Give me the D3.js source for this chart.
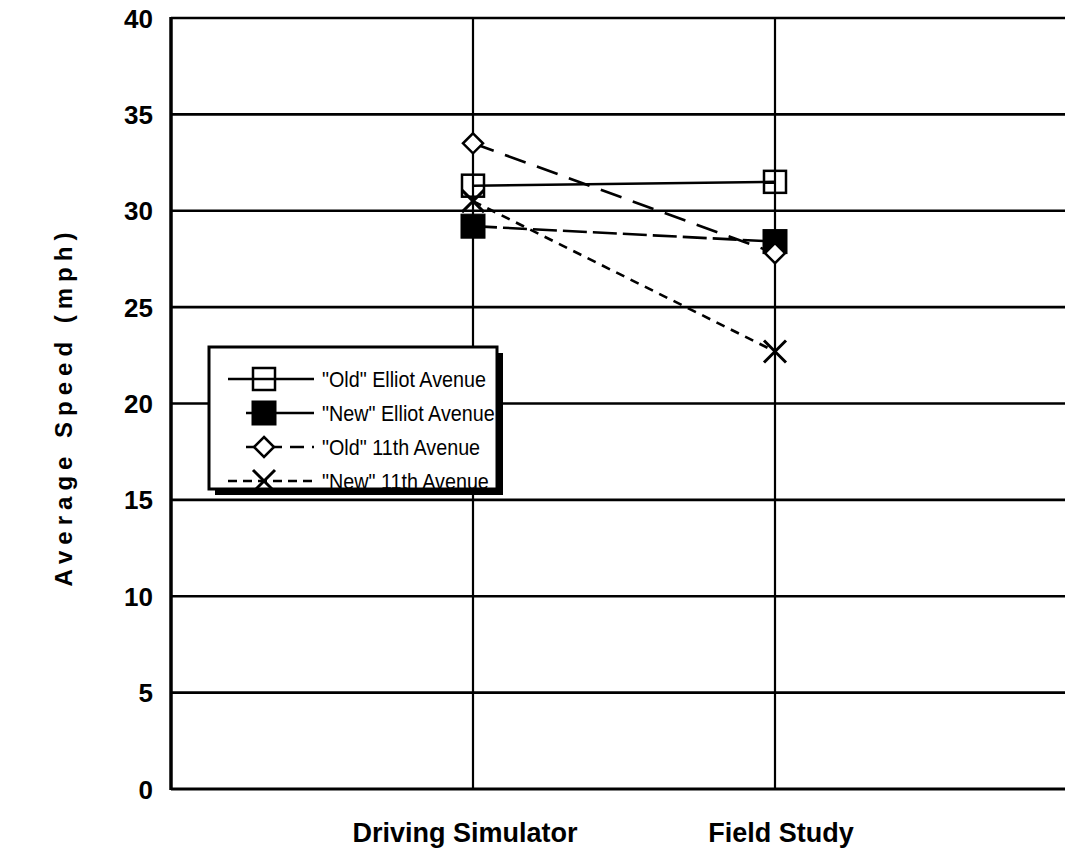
<!DOCTYPE html>
<html><head><meta charset="utf-8">
<script src="https://cdn.jsdelivr.net/npm/d3@7"></script>
<style>body{margin:0;background:#fff}svg{display:block}</style>
</head><body>
<svg id="c" width="1065" height="850"></svg>
<script>
const categories = ["Driving Simulator", "Field Study"];
const yTicks = [0, 5, 10, 15, 20, 25, 30, 35, 40];
const seriesNames = ["\"Old\" Elliot Avenue", "\"New\" Elliot Avenue", "\"Old\" 11th Avenue", "\"New\" 11th Avenue"];
const oldElliot = [31.3, 31.5];
const newElliot = [29.2, 28.4];
const old11th = [33.5, 27.8];
const new11th = [30.5, 22.7];

const series = [
  {name: seriesNames[0], values: oldElliot, dash: null, marker: "squareOpen", legDash: null, legX1: 228},
  {name: seriesNames[1], values: newElliot, dash: "24,6", marker: "squareFilled", legDash: null, legX1: 246},
  {name: seriesNames[2], values: old11th, dash: "22,12", marker: "diamond", legDash: "14,8", legX1: 246},
  {name: seriesNames[3], values: new11th, dash: "9,7", marker: "cross", legDash: "9,6", legX1: 228}
];

const svg = d3.select("#c");
const L = 171, T = 18, B = 789, R = 1077;
const x = d3.scaleLinear().domain([0, categories.length + 1]).range([L, R]);
const y = d3.scaleLinear().domain([0, 40]).range([B, T]);
const FONT = "Arial, 'Liberation Sans', sans-serif";

// horizontal gridlines
svg.append("g").selectAll("line").data(yTicks).join("line")
  .attr("x1", L).attr("x2", 1065).attr("y1", d => y(d)).attr("y2", d => y(d))
  .attr("stroke", "#000").attr("stroke-width", d => d === 0 ? 3 : 2.6);
// vertical category gridlines
svg.append("g").selectAll("line").data(categories).join("line")
  .attr("x1", (d, i) => x(i + 1)).attr("x2", (d, i) => x(i + 1))
  .attr("y1", T).attr("y2", B).attr("stroke", "#000").attr("stroke-width", 2.2);
// left axis line
svg.append("line").attr("x1", L).attr("x2", L).attr("y1", T - 1).attr("y2", B + 1)
  .attr("stroke", "#000").attr("stroke-width", 3.5);

// y tick labels via axis
const yAxis = d3.axisLeft(y).tickValues(yTicks).tickSize(0).tickPadding(0);
const ga = svg.append("g").attr("transform", `translate(${L - 18},0)`).call(yAxis);
ga.select(".domain").remove();
ga.selectAll("text").attr("font-family", FONT)
  .attr("font-weight", "bold").attr("font-size", 26).attr("fill", "#000").attr("dy", "0.35em");

// x labels
const xOffsets = [-8, 6];
svg.append("g").selectAll("text").data(categories).join("text")
  .attr("x", (d, i) => x(i + 1) + xOffsets[i]).attr("y", 842)
  .attr("text-anchor", "middle")
  .attr("font-family", FONT)
  .attr("font-weight", "bold").attr("font-size", 27).text(d => d);

// y axis title
svg.append("text").attr("transform", `translate(72,${(T + B) / 2 + 3}) rotate(-90)`)
  .attr("text-anchor", "middle")
  .attr("font-family", FONT)
  .attr("font-weight", "bold").attr("font-size", 24).attr("letter-spacing", 6)
  .text("Average Speed (mph)");

function drawMarker(g, type, cx, cy) {
  if (type === "squareOpen") {
    g.append("rect").attr("x", cx - 11).attr("y", cy - 11).attr("width", 22).attr("height", 22)
      .attr("fill", "none").attr("stroke", "#000").attr("stroke-width", 2.5);
  } else if (type === "squareFilled") {
    g.append("rect").attr("x", cx - 12).attr("y", cy - 12).attr("width", 24).attr("height", 24)
      .attr("fill", "#000").attr("stroke", "#000").attr("stroke-width", 1);
  } else if (type === "diamond") {
    g.append("path").attr("d", `M${cx},${cy - 10}L${cx + 10},${cy}L${cx},${cy + 10}L${cx - 10},${cy}Z`)
      .attr("fill", "#fff").attr("stroke", "#000").attr("stroke-width", 2.5);
  } else if (type === "cross") {
    g.append("path").attr("d", `M${cx - 11},${cy - 11}L${cx + 11},${cy + 11}M${cx - 11},${cy + 11}L${cx + 11},${cy - 11}`)
      .attr("fill", "none").attr("stroke", "#000").attr("stroke-width", 3);
  }
}

const line = d3.line().x((d, i) => x(i + 1)).y(d => y(d));
const gs = svg.append("g");
series.forEach(s => {
  gs.append("path").datum(s.values).attr("d", line).attr("fill", "none")
    .attr("stroke", "#000").attr("stroke-width", 2.6)
    .attr("stroke-dasharray", s.dash);
});
series.forEach(s => {
  s.values.forEach((v, i) => drawMarker(gs, s.marker, x(i + 1), y(v)));
});

// legend
const lg = svg.append("g");
const lx = 209, ly = 347, lw = 288, lh = 142;
lg.append("rect").attr("x", lx + 6).attr("y", ly + 6).attr("width", lw).attr("height", lh).attr("fill", "#000");
lg.append("rect").attr("x", lx).attr("y", ly).attr("width", lw).attr("height", lh)
  .attr("fill", "#fff").attr("stroke", "#000").attr("stroke-width", 3);
const rowY = [379, 413, 447, 481];
series.forEach((s, i) => {
  const yy = rowY[i];
  lg.append("line").attr("x1", s.legX1).attr("x2", 314).attr("y1", yy).attr("y2", yy)
    .attr("stroke", "#000").attr("stroke-width", 2.5)
    .attr("stroke-dasharray", s.legDash);
  drawMarker(lg, s.marker, 264, yy);
  lg.append("text").attr("transform", `translate(322,${yy + 8}) scale(0.94,1.08)`)
    .attr("font-family", FONT)
    .attr("font-size", 21).text(s.name);
});
</script>
</body></html>
